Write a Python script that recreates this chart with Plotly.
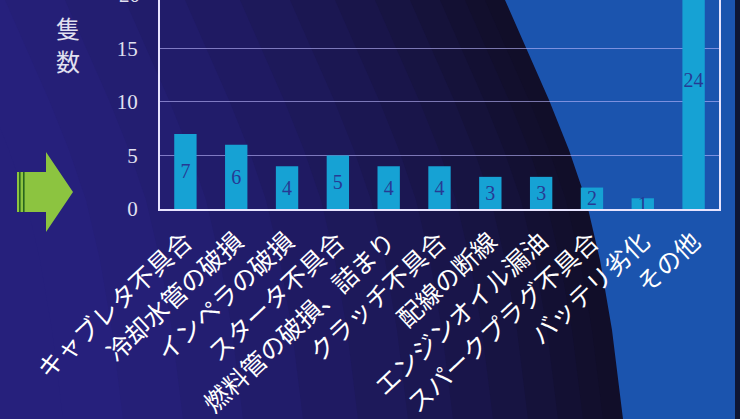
import plotly.graph_objects as go

categories = ["キャブレタ不具合", "冷却水管の破損", "インペラの破損", "スタータ不具合",
              "燃料管の破損、詰まり", "クラッチ不具合", "配線の断線", "エンジンオイル漏油",
              "スパークプラグ不具合", "バッテリ劣化", "その他"]
values = [7, 6, 4, 5, 4, 4, 3, 3, 2, 1, 24]
y_ticks = [0, 5, 10, 15, 20]
y_title_chars = ["隻", "数"]

W, H = 740, 419
ML, MR, MT, MB = 160, 21, 0, 210
PW, PH = W - ML - MR, H - MT - MB


def px(x):
    return (x - ML) / PW


def py(y):
    return (MT + PH - y) / PH


def path(points, close=True):
    s = "M " + " L ".join(f"{px(x):.5f},{py(y):.5f}" for x, y in points)
    return s + (" Z" if close else "")


shapes = []
# background bands following the curved boundary
curve = [(505, 0), (527, 50), (549, 100), (569, 150), (586, 200), (600, 260), (612, 330), (623, 419)]
band_cols = [
    (560, (38, 32, 124)), (500, (37, 31, 119)), (440, (35, 30, 113)), (380, (33, 28, 106)),
    (320, (31, 26, 98)), (265, (29, 25, 90)), (215, (27, 23, 82)), (170, (25, 21, 74)),
    (130, (23, 20, 66)), (95, (21, 18, 58)), (65, (19, 16, 51)), (40, (18, 15, 45)),
    (20, (17, 14, 41)),
]
for d, (r, g, b) in band_cols:
    pts = [(x - d, y) for x, y in curve] + [(W, H), (W, 0)]
    shapes.append(dict(type="path", xref="paper", yref="paper", path=path(pts),
                       fillcolor=f"rgb({r},{g},{b})", line=dict(width=0), layer="below"))
# blue region
shapes.append(dict(type="path", xref="paper", yref="paper",
                   path=path(curve + [(W, H), (W, 0)]),
                   fillcolor="rgb(27,84,174)", line=dict(width=0), layer="below"))
shapes.append(dict(type="rect", xref="paper", yref="paper", x0=px(735), x1=px(741), y0=py(H), y1=py(0),
                   fillcolor="rgb(14,22,52)", line=dict(width=0), layer="below"))

# green arrow
green = "rgb(140,196,64)"
shapes.append(dict(type="path", xref="paper", yref="paper",
                   path=path([(17, 172), (46, 172), (46, 152), (73, 192), (46, 232), (46, 212), (17, 212)]),
                   fillcolor=green, line=dict(width=0), layer="above"))
for xs in (19, 23):
    shapes.append(dict(type="rect", xref="paper", yref="paper", x0=px(xs), x1=px(xs + 1.6),
                       y0=py(212), y1=py(172), fillcolor="rgb(40,100,30)", line=dict(width=0),
                       layer="above"))

fig = go.Figure(go.Bar(
    x=categories, y=values, width=0.44,
    marker=dict(color="rgb(22,162,212)", line=dict(width=0)),
    texttemplate="%{y}", textposition="inside", insidetextanchor="middle", textangle=0,
    textfont=dict(family="Liberation Serif", size=20, color="rgb(38,58,148)"),
))

annotations = [
    dict(text=ch, xref="paper", yref="paper", x=px(68), y=py(yy), showarrow=False,
         xanchor="center", yanchor="middle",
         font=dict(family="Noto Sans CJK JP", size=24, color="rgb(225,225,240)"))
    for ch, yy in zip(y_title_chars, (27, 60))
]
annotations.append(dict(text="20", xref="paper", yref="paper", x=px(142), y=py(-5), showarrow=False,
                        xanchor="right", yanchor="middle",
                        font=dict(family="Liberation Serif", size=21, color="rgb(225,225,240)")))

fig.update_layout(
    width=W, height=H,
    margin=dict(l=ML, r=MR, t=MT, b=MB, pad=0),
    paper_bgcolor="rgb(38,32,124)", plot_bgcolor="rgba(0,0,0,0)",
    shapes=shapes, showlegend=False,
    uniformtext=dict(minsize=20, mode="show"),
    annotations=annotations,
)
fig.update_xaxes(
    showline=True, linecolor="rgb(232,228,255)", linewidth=2, ticks="", showgrid=False,
    tickangle=-43, tickfont=dict(family="Noto Sans CJK JP", size=25, color="white"),
    ticklabelstandoff=6,
    range=[-0.5, len(categories) - 0.5], fixedrange=True,
)
fig.update_yaxes(
    range=[0, 19.5], tickvals=y_ticks, ticks="", showline=True, mirror=True,
    linecolor="rgb(232,228,255)", linewidth=2,
    showgrid=True, gridcolor="rgba(190,185,255,0.6)", gridwidth=1, zeroline=False,
    tickfont=dict(family="Liberation Serif", size=21, color="rgb(225,225,240)"),
    ticklabelstandoff=16,
)

fig.write_html("out.html")
